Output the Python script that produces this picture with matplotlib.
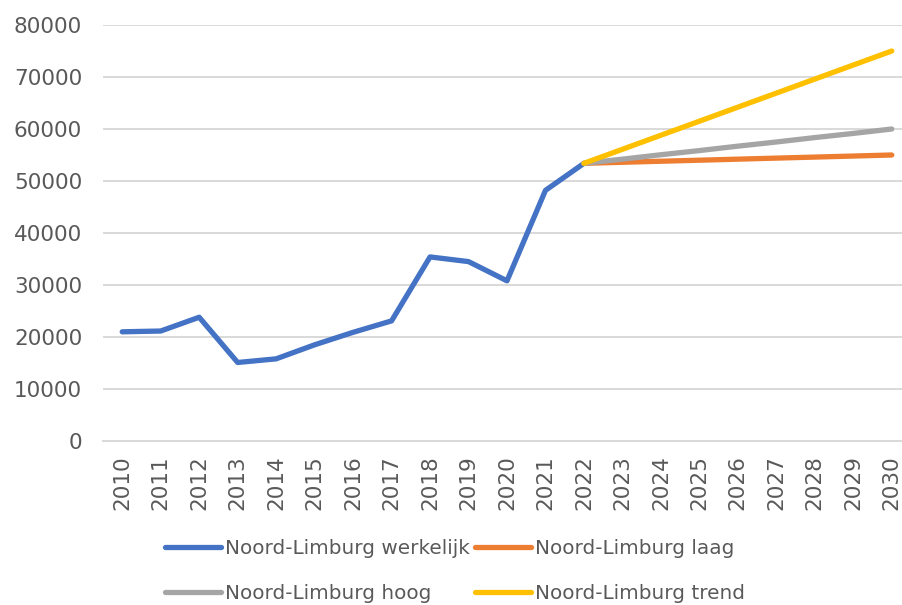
import matplotlib.pyplot as plt

years = [str(y) for y in range(2010, 2031)]
werkelijk = [21000, 21150, 23800, 15100, 15800, 18500, 20900, 23100, 35400, 34500, 30800, 48200, 53400]
laag = [53400, 53600, 53800, 54000, 54200, 54400, 54600, 54800, 55000]
hoog = [53400, 54200, 55050, 55850, 56700, 57500, 58350, 59150, 60000]
trend = [53400, 56100, 58800, 61500, 64200, 66900, 69600, 72300, 75000]

x_w = list(range(len(werkelijk)))
x_p = list(range(12, 21))

fig = plt.figure(figsize=(9.02, 6.05), dpi=100)
ax = fig.add_axes([103 / 902, 164 / 605, 808 / 902, 416 / 605])

lw = 3.8
l1, = ax.plot(x_w, werkelijk, color='#4472C4', lw=lw, solid_capstyle='round', label='Noord-Limburg werkelijk', zorder=3)
l2, = ax.plot(x_p, laag, color='#ED7D31', lw=lw, solid_capstyle='round', label='Noord-Limburg laag', zorder=4)
l3, = ax.plot(x_p, hoog, color='#A5A5A5', lw=lw, solid_capstyle='round', label='Noord-Limburg hoog', zorder=5)
l4, = ax.plot(x_p, trend, color='#FFC000', lw=lw, solid_capstyle='round', label='Noord-Limburg trend', zorder=6)

ax.set_xlim(-0.5, 20.5)
ax.set_ylim(0, 80000)
ax.set_yticks(range(0, 80001, 10000))
ax.set_xticks(range(len(years)))
ax.set_xticklabels(years, rotation=90)
ax.grid(axis='y', color='#D9D9D9', lw=1.4)
ax.set_axisbelow(True)
for s in ['top', 'right', 'left']:
    ax.spines[s].set_visible(False)
ax.spines['bottom'].set_color('#D9D9D9')
ax.spines['bottom'].set_linewidth(1.4)
ax.tick_params(length=0, labelsize=15.5, labelcolor='#595959')
ax.tick_params(axis='y', pad=15)
ax.tick_params(axis='x', pad=10)

# legend rows: werkelijk, laag / hoog, trend
handles = [l1, l3, l2, l4]
leg = fig.legend(handles=handles, labels=[h.get_label() for h in handles],
                 loc='center', bbox_to_anchor=(455 / 902, 1 - 571 / 605), ncol=2, frameon=False,
                 prop={'size': 14.4}, handlelength=2.8,
                 handletextpad=0.2, columnspacing=0.3, labelspacing=1.3, labelcolor='#595959')

fig.savefig('out.png', dpi=100)
